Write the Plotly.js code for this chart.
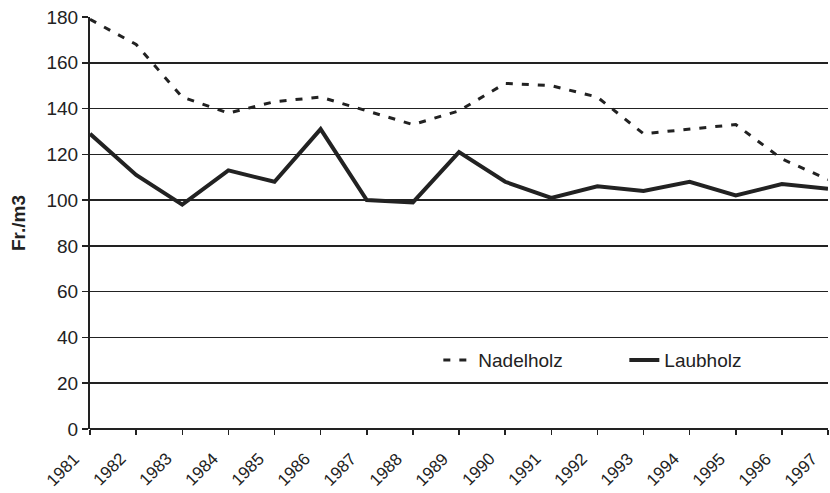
<!DOCTYPE html>
<html>
<head>
<meta charset="utf-8">
<script src="https://cdn.plot.ly/plotly-3.0.1.min.js"></script>
<style>html,body{margin:0;padding:0;background:#fff;}#chart{width:830px;height:493px;}</style>
</head>
<body>
<div id="chart"></div>
<script>
const years = [1981,1982,1983,1984,1985,1986,1987,1988,1989,1990,1991,1992,1993,1994,1995,1996,1997];
const nadelholz = [179,168,145,138,143,145,139,133,139,151,150,145,129,131,133,118,109];
const laubholz = [129,111,98,113,108,131,100,99,121,108,101,106,104,108,102,107,105];
const yTicks = [0,20,40,60,80,100,120,140,160,180];

const traces = [
  {x: years, y: nadelholz, name: 'Nadelholz', type: 'scatter', mode: 'lines',
   line: {color: '#222', width: 3, dash: '7px,9px'}},
  {x: years, y: laubholz, name: 'Laubholz', type: 'scatter', mode: 'lines',
   line: {color: '#222', width: 4}}
];

// x tick labels drawn as rotated annotations anchored at each year on the axis
const yearLabels = years.map(y => ({
  x: y, xref: 'x', y: 0, yref: 'y', text: String(y), showarrow: false,
  textangle: -45, xanchor: 'right', yanchor: 'top', xshift: -5, yshift: -19,
  font: {size: 17, color: '#222'}, borderpad: 0
}));

const layout = {
  width: 830, height: 493,
  margin: {l: 90, r: 2, t: 17, b: 64, autoexpand: false},
  paper_bgcolor: '#fff', plot_bgcolor: '#fff',
  font: {family: 'Liberation Sans, Arial, sans-serif', color: '#222'},
  showlegend: true,
  legend: {orientation: 'h', x: 0.472, xanchor: 'left', y: 0.167, yanchor: 'middle',
           font: {size: 19, color: '#222'}, entrywidth: 141, entrywidthmode: 'pixels',
           bgcolor: 'rgba(0,0,0,0)', traceorder: 'normal'},
  annotations: yearLabels,
  xaxis: {range: [1981, 1997], tickmode: 'array', tickvals: years, showticklabels: false,
          ticks: 'outside', ticklen: 5, tickwidth: 1.5,
          tickcolor: '#222', showgrid: false, zeroline: false, showline: false, fixedrange: true,
          automargin: false},
  yaxis: {range: [0, 180], tickmode: 'array', tickvals: yTicks, tickfont: {size: 19},
          ticks: 'outside', ticklen: 6, tickwidth: 1.5, tickcolor: '#222', automargin: false,
          showgrid: true, gridcolor: '#222', gridwidth: 1.5, zeroline: true, zerolinecolor: '#222', zerolinewidth: 2,
          showline: true, linecolor: '#222', linewidth: 2,
          title: {text: '<b>Fr./m3</b>', font: {size: 19}, standoff: 16}}
};

Plotly.newPlot('chart', traces, layout, {displayModeBar: false, staticPlot: true});
</script>
</body>
</html>
